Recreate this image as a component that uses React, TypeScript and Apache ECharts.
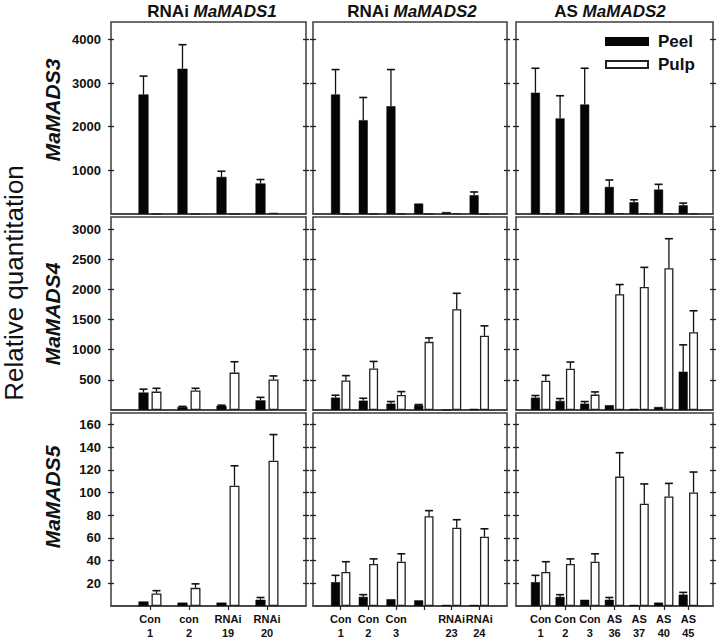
import React, { useEffect, useRef } from 'react';
import * as echarts from 'echarts';

// ---------- texts ----------
const colTitles = [['RNAi ', 'MaMADS1'], ['RNAi ', 'MaMADS2'], ['AS ', 'MaMADS2']];
const rowGenes = ['MaMADS3', 'MaMADS4', 'MaMADS5'];
const yTitle = 'Relative quantitation';
const legendNames = ['Peel', 'Pulp'];

// ---------- categories (empty end slots pad the axis) ----------
const catsRnai1 = ['', 'Con\n1', 'con\n2', 'RNAi\n19', 'RNAi\n20', ''];
const catsRnai2 = ['', 'Con\n1', 'Con\n2', 'Con\n3', '', 'RNAi\n23', 'RNAi\n24', ''];
const catsAs2 = ['', 'Con\n1', 'Con\n2', 'Con\n3', 'AS\n36', 'AS\n37', 'AS\n40', 'AS\n45', ''];

// ---------- y axis ticks ----------
const yTicksMads3 = [1000, 2000, 3000, 4000];
const yTicksMads4 = [500, 1000, 1500, 2000, 2500, 3000];
const yTicksMads5 = [20, 40, 60, 80, 100, 120, 140, 160];
const yMaxMads3 = 4400;
const yMaxMads4 = 3200;
const yMaxMads5 = 170;

// ---------- MaMADS3 ----------
const m3r1Peel = [2740, 3330, 850, 700];
const m3r1PeelErr = [420, 550, 130, 90];
const m3r1Pulp = [0, 0, 0, 25];
const m3r1PulpErr = [0, 0, 0, 0];

const m3r2Peel = [2740, 2150, 2470, 240, 45, 430];
const m3r2PeelErr = [570, 520, 840, 0, 0, 75];
const m3r2Pulp = [0, 0, 0, 0, 20, 0];
const m3r2PulpErr = [0, 0, 0, 0, 0, 0];

const m3asPeel = [2780, 2190, 2510, 620, 270, 560, 200];
const m3asPeelErr = [560, 520, 830, 160, 55, 120, 50];
const m3asPulp = [15, 15, 15, 15, 15, 15, 10];
const m3asPulpErr = [0, 0, 0, 0, 0, 0, 0];

// ---------- MaMADS4 ----------
const m4r1Peel = [290, 50, 70, 160];
const m4r1PeelErr = [55, 10, 10, 50];
const m4r1Pulp = [305, 325, 620, 505];
const m4r1PulpErr = [55, 35, 180, 60];

const m4r2Peel = [205, 155, 105, 80, 0, 20];
const m4r2PeelErr = [40, 40, 35, 10, 0, 0];
const m4r2Pulp = [490, 690, 250, 1130, 1670, 1230];
const m4r2PulpErr = [80, 115, 55, 65, 265, 165];

const m4asPeel = [205, 150, 105, 80, 20, 50, 635];
const m4asPeelErr = [35, 40, 35, 0, 0, 0, 445];
const m4asPulp = [485, 685, 255, 1920, 2040, 2350, 1290];
const m4asPulpErr = [90, 110, 45, 160, 325, 490, 355];

// ---------- MaMADS5 ----------
const m5r1Peel = [4, 3, 3, 5.5];
const m5r1PeelErr = [0, 0, 0, 2];
const m5r1Pulp = [11, 16, 106, 128];
const m5r1PulpErr = [2.5, 3.5, 17.5, 23];

const m5r2Peel = [21, 8, 6, 5, 1, 1];
const m5r2PeelErr = [6, 2, 0, 0, 0, 0];
const m5r2Pulp = [30, 37, 39, 79, 69, 61];
const m5r2PulpErr = [9, 4.5, 7, 5, 7, 7];

const m5asPeel = [21, 8, 5.5, 5.5, 1, 3, 10];
const m5asPeelErr = [6, 2, 0, 2, 0, 0, 2];
const m5asPulp = [30, 37, 39, 114, 90, 96.5, 100];
const m5asPulpErr = [9, 4.5, 7, 21, 17.5, 11.5, 18];

// ---------- assembly ----------
const FONT = '"Liberation Sans", Arial, Helvetica, sans-serif';
const FRAME = '#3c3c3c';

const colCats = [catsRnai1, catsRnai2, catsAs2];
const rowTicks = [yTicksMads3, yTicksMads4, yTicksMads5];
const rowMax = [yMaxMads3, yMaxMads4, yMaxMads5];
const panels = [
  [
    [m3r1Peel, m3r1PeelErr, m3r1Pulp, m3r1PulpErr],
    [m3r2Peel, m3r2PeelErr, m3r2Pulp, m3r2PulpErr],
    [m3asPeel, m3asPeelErr, m3asPulp, m3asPulpErr],
  ],
  [
    [m4r1Peel, m4r1PeelErr, m4r1Pulp, m4r1PulpErr],
    [m4r2Peel, m4r2PeelErr, m4r2Pulp, m4r2PulpErr],
    [m4asPeel, m4asPeelErr, m4asPulp, m4asPulpErr],
  ],
  [
    [m5r1Peel, m5r1PeelErr, m5r1Pulp, m5r1PulpErr],
    [m5r2Peel, m5r2PeelErr, m5r2Pulp, m5r2PulpErr],
    [m5asPeel, m5asPeelErr, m5asPulp, m5asPulpErr],
  ],
];

const colX = [111, 313, 516];
const colW = [195, 194, 197];
const rowY = [22, 217, 413];
const rowH = [192, 193, 193];
const barW = [10, 9, 9];
const barGapRatio = [0.3, 0.15, 0.15];

function buildOption() {
  const grid: any[] = [];
  const xAxis: any[] = [];
  const yAxis: any[] = [];
  const series: any[] = [];

  for (let r = 0; r < 3; r++) {
    for (let c = 0; c < 3; c++) {
      const g = r * 3 + c;
      const cats = colCats[c];
      const n = cats.length;
      grid.push({
        left: colX[c], top: rowY[r], width: colW[c], height: rowH[r],
        show: true, borderColor: FRAME, borderWidth: 1.5, backgroundColor: 'transparent',
        containLabel: false,
      });
      xAxis.push({
        gridIndex: g, type: 'category', data: cats, boundaryGap: false,
        axisLine: { show: true, lineStyle: { color: FRAME, width: 1.5 } },
        axisTick: {
          show: r === 2, length: 4, inside: false,
          interval: (i: number) => i > 0 && i < n - 1,
          lineStyle: { color: '#222', width: 1.2 },
        },
        axisLabel: {
          show: r === 2, interval: 0, margin: 6,
          fontFamily: FONT, fontWeight: 'bold', fontSize: 11, lineHeight: 14, color: '#111',
        },
        splitLine: { show: false },
      });
      const ticks = rowTicks[r];
      const mk = (position: string, inside: boolean, labels: boolean) => ({
        gridIndex: g, type: 'value', position, min: 0, max: rowMax[r],
        axisLine: { show: false },
        axisTick: { show: true, inside, length: 3, customValues: ticks, lineStyle: { color: '#222', width: 1.3 } },
        axisLabel: {
          show: labels, customValues: ticks, margin: 10,
          formatter: (v: number) => String(v),
          fontFamily: FONT, fontWeight: 'bold', fontSize: 13, color: '#111',
        },
        splitLine: { show: false },
      });
      const yBase = yAxis.length;
      yAxis.push(mk('left', false, c === 0));
      yAxis.push(mk('left', true, false));
      yAxis.push(mk('right', false, false));
      yAxis.push(mk('right', true, false));

      const [peel, peelErr, pulp, pulpErr] = panels[r][c];
      const pad = (a: number[]) => [null, ...a, null];
      series.push({
        name: 'Peel', type: 'bar', xAxisIndex: g, yAxisIndex: yBase,
        data: pad(peel), barWidth: barW[c], barGap: `${barGapRatio[c] * 100}%`,
        itemStyle: { color: '#050505', borderColor: '#050505', borderWidth: 0.5 },
      });
      series.push({
        name: 'Pulp', type: 'bar', xAxisIndex: g, yAxisIndex: yBase,
        data: pad(pulp), barWidth: barW[c], barGap: `${barGapRatio[c] * 100}%`,
        itemStyle: { color: '#ffffff', borderColor: '#222', borderWidth: 1.3 },
      });
      const off = (barW[c] * (1 + barGapRatio[c])) / 2;
      const errData: any[] = [];
      peel.forEach((v, i) => { if (peelErr[i] > 0) errData.push([i + 1, v, peelErr[i], -1]); });
      pulp.forEach((v, i) => { if (pulpErr[i] > 0) errData.push([i + 1, v, pulpErr[i], 1]); });
      series.push({
        name: 'err', type: 'custom', xAxisIndex: g, yAxisIndex: yBase, z: 5,
        data: errData,
        encode: { x: 0, y: 1 },
        renderItem: (_p: any, api: any) => {
          const x = api.value(0);
          const v = api.value(1);
          const e = api.value(2);
          const side = api.value(3);
          const p0 = api.coord([x, v]);
          const p1 = api.coord([x, v + e]);
          const cx = p0[0] + side * off;
          return {
            type: 'group',
            children: [
              { type: 'line', shape: { x1: cx, y1: p0[1], x2: cx, y2: p1[1] }, style: { stroke: '#111', lineWidth: 1.3 } },
              { type: 'line', shape: { x1: cx - 4, y1: p1[1], x2: cx + 4, y2: p1[1] }, style: { stroke: '#111', lineWidth: 1.6 } },
            ],
          };
        },
      });
    }
  }

  const titleX = [212, 412, 610];
  const rowLabelY = [110, 314, 497];
  const graphic: any[] = [];
  colTitles.forEach((t, i) => {
    graphic.push({
      type: 'text', x: titleX[i], y: 11,
      style: {
        text: `{a|${t[0]}}{b|${t[1]}}`,
        align: 'center', verticalAlign: 'middle',
        rich: {
          a: { fontFamily: FONT, fontWeight: 'bold', fontSize: 17, fill: '#111' },
          b: { fontFamily: FONT, fontWeight: 'bold', fontStyle: 'italic', fontSize: 17, fill: '#111' },
        },
      },
    });
  });
  rowGenes.forEach((t, i) => {
    graphic.push({
      type: 'text', x: 52, y: rowLabelY[i], rotation: Math.PI / 2,
      style: {
        text: t, align: 'center', verticalAlign: 'middle',
        fontFamily: FONT, fontWeight: 'bold', fontStyle: 'italic', fontSize: 21, fill: '#111',
      },
    });
  });
  graphic.push({
    type: 'text', x: 14, y: 283, rotation: Math.PI / 2,
    style: {
      text: yTitle, align: 'center', verticalAlign: 'middle',
      fontFamily: FONT, fontSize: 26, fill: '#111',
    },
  });

  return {
    animation: false,
    backgroundColor: '#ffffff',
    grid, xAxis, yAxis, series, graphic,
    legend: {
      data: legendNames, orient: 'vertical', left: 605, top: 33,
      itemWidth: 42, itemHeight: 7, itemGap: 6, padding: 0, selectedMode: false,
      icon: 'rect',
      textStyle: { fontFamily: FONT, fontWeight: 'bold', fontSize: 17, color: '#111', padding: [0, 0, 0, 5] },
    },
  };
}

export default function App() {
  const ref = useRef<HTMLDivElement>(null);
  useEffect(() => {
    if (!ref.current) return;
    const chart = echarts.init(ref.current, undefined, { renderer: 'svg' });
    chart.setOption(buildOption() as any);
    return () => chart.dispose();
  }, []);
  return (
    <div
      ref={ref}
      style={{ position: 'absolute', left: 0, top: 0, width: 717, height: 644, background: '#fff' }}
    />
  );
}
